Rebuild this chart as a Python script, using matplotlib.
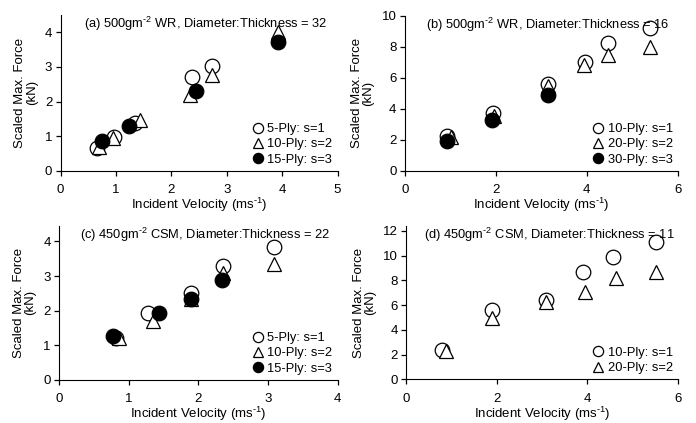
import numpy as np
import matplotlib.pyplot as plt

plt.rcParams['font.family'] = ['Liberation Sans', 'DejaVu Sans']
plt.rcParams['font.size'] = 9
plt.rcParams['mathtext.fontset'] = 'custom'
plt.rcParams['mathtext.rm'] = 'Liberation Sans'

# (a) 500gm-2 WR, D:t = 32
a_s1_x = [0.66, 0.97, 1.34, 2.38, 2.74]
a_s1_y = [0.66, 0.98, 1.38, 2.70, 3.01]
a_s2_x = [0.70, 0.95, 1.43, 2.33, 2.74, 3.92]
a_s2_y = [0.70, 0.95, 1.47, 2.19, 2.76, 4.01]
a_s3_x = [0.75, 1.24, 2.44, 3.93]
a_s3_y = [0.87, 1.28, 2.31, 3.73]

# (b) 500gm-2 WR, D:t = 16
b_s1_x = [0.93, 1.93, 3.14, 3.95, 4.46, 5.38]
b_s1_y = [2.25, 3.72, 5.62, 7.03, 8.22, 9.18]
b_s2_x = [1.01, 1.96, 3.14, 3.94, 4.47, 5.38]
b_s2_y = [2.20, 3.55, 5.50, 6.85, 7.47, 8.00]
b_s3_x = [0.93, 1.92, 3.14]
b_s3_y = [1.95, 3.25, 4.90]

# (c) 450gm-2 CSM, D:t = 22
c_s1_x = [0.82, 1.27, 1.89, 2.35, 3.08]
c_s1_y = [1.20, 1.93, 2.50, 3.30, 3.84]
c_s2_x = [0.86, 1.35, 1.89, 2.35, 3.08]
c_s2_y = [1.22, 1.70, 2.33, 3.08, 3.34]
c_s3_x = [0.77, 1.44, 1.89, 2.34]
c_s3_y = [1.27, 1.93, 2.35, 2.88]

# (d) 450gm-2 CSM, D:t = 11
d_s1_x = [0.79, 1.89, 3.09, 3.90, 4.57, 5.51]
d_s1_y = [2.35, 5.60, 6.45, 8.66, 9.87, 11.08]
d_s2_x = [0.88, 1.89, 3.09, 3.95, 4.63, 5.51]
d_s2_y = [2.28, 5.00, 6.25, 7.10, 8.17, 8.66]

panels = [
    dict(pos=[0.087, 0.596, 0.398, 0.369], title=r'(a) 500gm$^{\text{-}2}$ WR, Diameter:Thickness = 32',
         xlim=5, ylim=4.5, xt=[0, 1, 2, 3, 4, 5], yt=[0, 1, 2, 3, 4],
         series=[(a_s1_x, a_s1_y), (a_s2_x, a_s2_y), (a_s3_x, a_s3_y)],
         labels=['5-Ply: s=1', '10-Ply: s=2', '15-Ply: s=3']),
    dict(pos=[0.5815, 0.596, 0.3925, 0.367], title=r'(b) 500gm$^{\text{-}2}$ WR, Diameter:Thickness = 16',
         xlim=6, ylim=10, xt=[0, 2, 4, 6], yt=[0, 2, 4, 6, 8, 10],
         series=[(b_s1_x, b_s1_y), (b_s2_x, b_s2_y), (b_s3_x, b_s3_y)],
         labels=['10-Ply: s=1', '20-Ply: s=2', '30-Ply: s=3']),
    dict(pos=[0.085, 0.102, 0.400, 0.364], title=r'(c) 450gm$^{\text{-}2}$ CSM, Diameter:Thickness = 22',
         xlim=4, ylim=4.45, xt=[0, 1, 2, 3, 4], yt=[0, 1, 2, 3, 4],
         series=[(c_s1_x, c_s1_y), (c_s2_x, c_s2_y), (c_s3_x, c_s3_y)],
         labels=['5-Ply: s=1', '10-Ply: s=2', '15-Ply: s=3']),
    dict(pos=[0.5838, 0.103, 0.3902, 0.363], title=r'(d) 450gm$^{\text{-}2}$ CSM, Diameter:Thickness = 11',
         xlim=6, ylim=12.4, xt=[0, 2, 4, 6], yt=[0, 2, 4, 6, 8, 10, 12],
         series=[(d_s1_x, d_s1_y), (d_s2_x, d_s2_y)],
         labels=['10-Ply: s=1', '20-Ply: s=2']),
]

styles = [dict(marker='o', mfc='white'), dict(marker='^', mfc='white'), dict(marker='o', mfc='black')]

fig = plt.figure(figsize=(6.96, 4.23), dpi=100)

for p in panels:
    ax = fig.add_axes(p['pos'])
    for (x, y), st, lab in zip(p['series'], styles, p['labels']):
        ax.plot(x, y, linestyle='none', marker=st['marker'], mfc=st['mfc'], mec='black',
                mew=0.9, ms=10.5, label=lab)
    ax.set_xlim(0, p['xlim'])
    ax.set_ylim(0, p['ylim'])
    ax.set_xticks(p['xt'])
    ax.set_yticks(p['yt'])
    ax.spines['top'].set_visible(False)
    ax.spines['right'].set_visible(False)
    ax.spines['left'].set_bounds(0, p['ylim'])
    ax.tick_params(direction='out', length=3.5, width=0.9, labelsize=9.5)
    ax.tick_params(axis='x', pad=6)
    ax.tick_params(axis='y', pad=2.5)
    ax.set_xlabel('Incident Velocity (ms$^{\\text{-}1}$)', fontsize=9.5, labelpad=0)
    ax.set_ylabel('Scaled Max. Force\n(kN)', fontsize=9.5, labelpad=5, linespacing=0.95)
    ax.text(0.525, 1.0, p['title'], transform=ax.transAxes, ha='center', va='top', fontsize=9.3)
    ax.legend(loc='lower right', frameon=False, fontsize=9.3, markerscale=0.7,
              handlelength=0.8, handletextpad=0.35, labelspacing=0.25,
              borderaxespad=0.1, borderpad=0.3)

fig.savefig('out.png', dpi=100)
